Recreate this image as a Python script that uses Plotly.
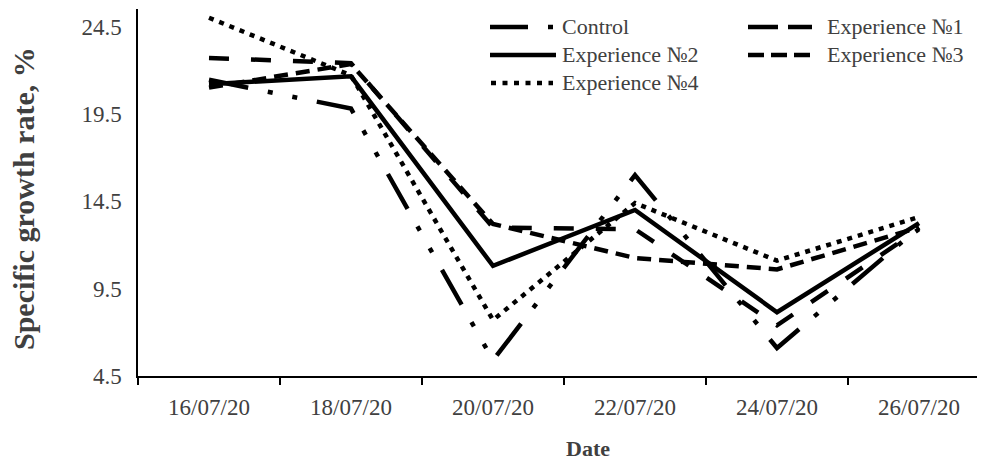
import plotly.graph_objects as go

dates = ["16/07/20", "18/07/20", "20/07/20", "22/07/20", "24/07/20", "26/07/20"]
control = [21.45, 19.8, 5.4, 16.0, 6.1, 13.0]
exp1 = [22.7, 22.4, 13.0, 12.9, 7.4, 12.9]
exp2 = [21.2, 21.65, 10.8, 14.0, 8.15, 13.25]
exp3 = [21.0, 22.35, 13.2, 11.25, 10.6, 13.0]
exp4 = [25.0, 21.7, 7.7, 14.4, 11.1, 13.6]
y_ticks = [4.5, 9.5, 14.5, 19.5, 24.5]

font_family = "Liberation Serif"
text_color = "#404040"
line_color = "black"
lw = 4.5

# the page body has an 8px margin, so the figure sits 8px in from the window corner
OFF = 8
W, H = 985 - OFF, 461 - OFF
# plot area in window pixels
left, right, top, bottom = 138, 985, 9, 376


def px(x):
    return (x - left) / (right - left)


def py(y):
    return (bottom - y) / (bottom - top)


series = [
    ("Control", control, "40px,20px,5px,20px,5px,20px"),
    ("Experience №1", exp1, "20px,22px"),
    ("Experience №2", exp2, "solid"),
    ("Experience №3", exp3, "14px,8px"),
    ("Experience №4", exp4, "5px,6px"),
]

fig = go.Figure()
for name, vals, dash in series:
    fig.add_trace(go.Scatter(x=dates, y=vals, name=name, mode="lines",
                             line=dict(color=line_color, width=lw, dash=dash)))

# legend drawn by hand (longer samples than plotly's own)
legend_items = [
    ("Control", 490, 556, 27, "38px,20px,5px,20px"),
    ("Experience №2", 490, 556, 55, "solid"),
    ("Experience №4", 491, 553, 83, "5px,6.5px"),
    ("Experience №1", 748, 812, 27, "30px,10px"),
    ("Experience №3", 748, 812, 55, "16px,7px"),
]
shapes = []
annotations = []
for name, x0, x1, y, dash in legend_items:
    shapes.append(dict(type="line", xref="paper", yref="paper",
                       x0=px(x0), x1=px(x1), y0=py(y), y1=py(y),
                       line=dict(color=line_color, width=lw, dash=dash)))
    tx = 560 if x0 < 600 else 825
    annotations.append(dict(text=name, xref="paper", yref="paper",
                            x=px(tx), y=py(y), xanchor="left", yanchor="middle",
                            showarrow=False,
                            font=dict(size=22, color=text_color, family=font_family)))

annotations.append(dict(text="<b>Specific growth rate, %</b>", textangle=-90,
                        xref="paper", yref="paper", x=px(23), y=py(199),
                        xanchor="center", yanchor="middle", showarrow=False,
                        font=dict(size=30, color=text_color, family=font_family)))
annotations.append(dict(text="<b>Date</b>", xref="paper", yref="paper",
                        x=px(588), y=py(448), xanchor="center", yanchor="middle",
                        showarrow=False,
                        font=dict(size=22, color=text_color, family=font_family)))

fig.update_layout(
    width=W, height=H,
    margin=dict(l=left - OFF, r=985 - right, t=top - OFF, b=461 - bottom),
    plot_bgcolor="white", paper_bgcolor="white",
    showlegend=False,
    shapes=shapes,
    annotations=annotations,
    font=dict(family=font_family, color=text_color, size=23),
)
fig.update_xaxes(type="category", range=[-0.5, -0.5 + (right - left) / 142],
                 showline=True, linecolor="black", linewidth=1.5,
                 ticks="outside", tickson="boundaries", ticklen=7, tickwidth=1.5,
                 tickcolor="black", showgrid=False, zeroline=False,
                 ticklabelstandoff=10, automargin=False)
fig.update_yaxes(range=[4.5, 25.5], tickvals=y_ticks, ticktext=[str(v) for v in y_ticks],
                 showline=True, linecolor="black", linewidth=1.5,
                 ticks="", showgrid=False, zeroline=False, ticklabelstandoff=10,
                 automargin=False)

fig.write_html("out.html")
